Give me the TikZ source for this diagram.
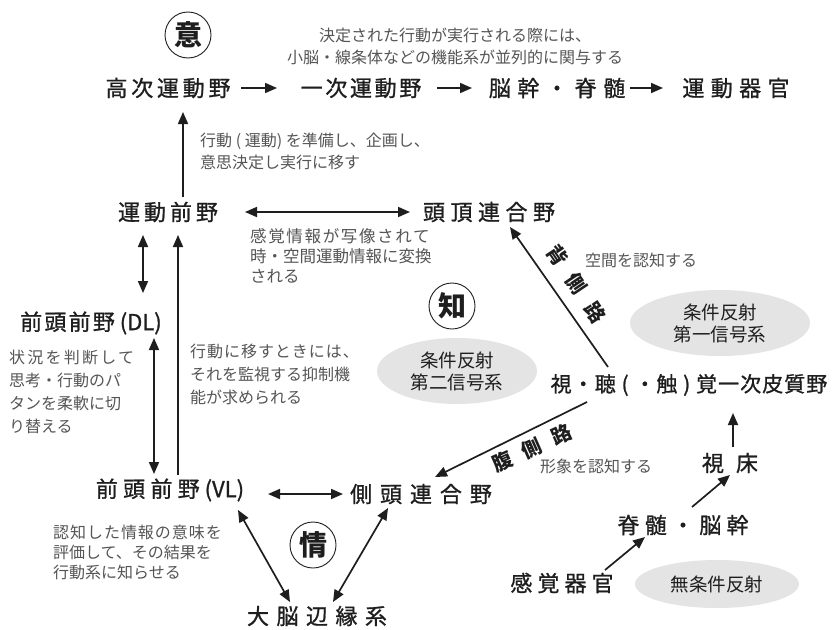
\documentclass[tikz,border=0pt]{standalone}
\usepackage{fontspec}
\setmainfont{Noto Sans CJK JP}
\usetikzlibrary{arrows.meta,shapes.geometric}
\newcommand\lsp[1]{\addfontfeature{LetterSpace=#1}}
\definecolor{notegray}{HTML}{555555}
\definecolor{blobgray}{HTML}{E4E4E4}
\definecolor{ink}{HTML}{1E1E1E}
\tikzset{
  mainlbl/.style={inner sep=0pt, text=ink, font=\fontsize{22}{26}\selectfont\addfontfeature{FakeBold=1}},
  note/.style={inner sep=0pt, align=left, text=notegray, font=\fontsize{16}{22}\selectfont},
  blob/.style={ellipse, fill=blobgray, draw=none, inner sep=0pt, align=center, text=ink,
    font=\fontsize{18.5}{22}\selectfont},
  kanji/.style={circle, draw=ink, line width=0.9pt, minimum size=46pt, inner sep=0pt,
    text=ink, font=\bfseries\fontsize{28}{28}\selectfont},
  pathlbl/.style={inner sep=0pt, text=ink, font=\bfseries\fontsize{20}{20}\selectfont},
  tipA/.tip={Triangle[length=12pt,width=10pt]},
  arr/.style={-tipA, line width=1.7pt, draw=ink},
  darr/.style={tipA-tipA, line width=1.7pt, draw=ink},
}
\begin{document}
\begin{tikzpicture}[x=1pt,y=-1pt]
\path[use as bounding box, fill=white] (0,0) rectangle (834,629);

% circled kanji
\node[kanji] (yi) at (188,35) {意};
\node[kanji] (chi) at (452,306) {知};
\node[kanji] (jo) at (313,545) {情};

% grey ellipses
\node[blob, minimum width=180pt, minimum height=66pt] (b1) at (720,323) {条件反射\\第一信号系};
\node[blob, minimum width=160pt, minimum height=66pt] (b2) at (457,371) {条件反射\\第二信号系};
\node[blob, minimum width=164pt, minimum height=48pt] (b3) at (717,584) {無条件反射};

% main nodes
\node[mainlbl] (ko) at (168,88) {\lsp{17}高次運動野};
\node[mainlbl] (ichi) at (361,88) {\lsp{12}一次運動野};
\node[mainlbl] (nokan) at (557,88) {\lsp{30}脳幹・脊髄};
\node[mainlbl] (undo) at (736,88) {\lsp{29}運動器官};
\node[mainlbl] (mae) at (168,212) {\lsp{18}運動前野};
\node[mainlbl] (toucho) at (489,212) {\lsp{25}頭頂連合野};
\node[mainlbl] (dl) at (91,323) {{\lsp{10}前頭前野} (DL)};
\node[mainlbl] (vl) at (170,490) {{\lsp{24}前頭前野} (VL)};
\node[mainlbl] (sokutou) at (421,494) {\lsp{36}側頭連合野};
\node[mainlbl] (limbic) at (317,616) {\lsp{34}大脳辺縁系};
\node[mainlbl, font=\fontsize{21}{26}\selectfont\addfontfeature{FakeBold=1}] (shi) at (689,385) {\lsp{5}視・聴 ( ・触 ) 覚一次皮質野};
\node[mainlbl] (shisho) at (730,463) {視\hspace{12pt}床};
\node[mainlbl] (sekizui) at (683,525) {\lsp{24}脊髄・脳幹};
\node[mainlbl] (kankaku) at (562,583) {\lsp{23}感覚器官};

% notes
\node[note, align=center] (n1) at (455,46) {決定された行動が実行される際には、\\小脳・線条体などの機能系が並列的に関与する};
\node[note, anchor=west] (n2) at (200,151) {行動 ( 運動) を準備し、企画し、\\意思決定し実行に移す};
\node[note, anchor=west, font=\fontsize{16.5}{20}\selectfont] (n3) at (250,256) {{\lsp{10}感覚情報が写像されて}\\時・空間運動情報に変換\\される};
\node[note] (n4) at (641,260) {空間を認知する};
\node[note, anchor=west, font=\fontsize{16}{23}\selectfont] (n5) at (9,392) {\lsp{14}状況を判断して\\思考・行動のパ\\タンを柔軟に切\\り替える};
\node[note, anchor=west, font=\fontsize{16}{23}\selectfont] (n6) at (190,374) {\lsp{6}行動に移すときには、\\それを監視する抑制機\\能が求められる};
\node[note] (n7) at (596,466) {形象を認知する};
\node[note, anchor=west, font=\fontsize{16}{20}\selectfont] (n8) at (53,552) {\lsp{6}認知した情報の意味を\\評価して、その結果を\\行動系に知らせる};

% path labels
\node[pathlbl, rotate=-56] (dorsal) at (576,284) {背\hspace{14pt}側\hspace{14pt}路};
\node[pathlbl, rotate=24] (ventral) at (532,448) {腹\hspace{12pt}側\hspace{12pt}路};

% top row arrows
\draw[arr] ([shift={(73,0)}]ko.center) -- ([shift={(-84,0)}]ichi.center);
\draw[arr] ([shift={(76,0)}]ichi.center) -- ([shift={(-85,0)}]nokan.center);
\draw[arr] ([shift={(73,0)}]nokan.center) -- ([shift={(-73,0)}]undo.center);

% motor side
\draw[arr] ([shift={(15,-15)}]mae.center) -- ([shift={(15,24)}]ko.center);
\draw[darr] ([shift={(77,0)}]mae.center) -- ([shift={(-79,0)}]toucho.center);
\draw[darr] ([shift={(-25,23)}]mae.center) -- ([shift={(52,-30)}]dl.center);
\draw[arr] ([shift={(8,-15)}]vl.center) -- ([shift={(10,23)}]mae.center);
\draw[darr] ([shift={(63,15)}]dl.center) -- ([shift={(-16,-16)}]vl.center);

% emotion triangle
\draw[darr] ([shift={(98,4)}]vl.center) -- ([shift={(-78,0)}]sokutou.center);
\draw[darr] ([shift={(68,20)}]vl.center) -- ([shift={(-27,-14)}]limbic.center);
\draw[darr] ([shift={(-33,14)}]sokutou.center) -- ([shift={(16,-14)}]limbic.center);

% sensory pathways
\draw[arr] ([shift={(-81,-18)}]shi.center) -- ([shift={(21,15)}]toucho.center);
\draw[arr] ([shift={(-102,17)}]shi.center) -- ([shift={(14,-17)}]sokutou.center);
\draw[arr] ([shift={(3,-16)}]shisho.center) -- ([shift={(44,28)}]shi.center);
\draw[arr] ([shift={(9,-18)}]sekizui.center) -- ([shift={(0,12)}]shisho.center);
\draw[arr] ([shift={(43,-13)}]kankaku.center) -- ([shift={(-38,12)}]sekizui.center);
\end{tikzpicture}
\end{document}
